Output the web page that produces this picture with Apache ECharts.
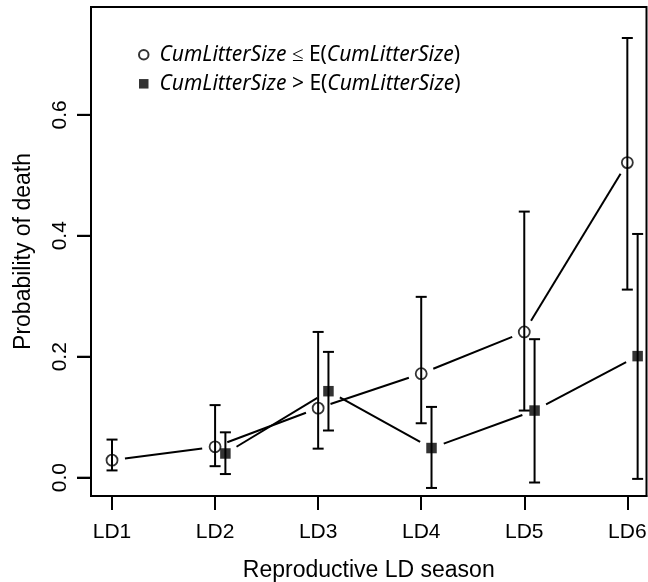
<!DOCTYPE html>
<html><head><meta charset="utf-8">
<script src="https://cdn.jsdelivr.net/npm/echarts@6/dist/echarts.min.js"></script>
<style>html,body{margin:0;padding:0;background:#fff}#c{width:648px;height:582px;background:#fff}</style>
</head><body><div id="c"></div>
<script>
// ---- data ----
const categories = ['LD1', 'LD2', 'LD3', 'LD4', 'LD5', 'LD6'];
const xTicks = [1, 2, 3, 4, 5, 6];
const yTicks = [0, 0.2, 0.4, 0.6];
const lowName = 'CumLitterSize ≤ E(CumLitterSize)';
const highName = 'CumLitterSize > E(CumLitterSize)';
const lowPos = [1, 2, 3, 4, 5, 6];
const lowMean = [0.029, 0.051, 0.115, 0.172, 0.241, 0.521];
const lowLower = [0.012, 0.019, 0.048, 0.090, 0.111, 0.311];
const lowUpper = [0.063, 0.120, 0.241, 0.299, 0.440, 0.727];
const highPos = [2, 3, 4, 5, 6];
const highOffset = 0.1;
const highMean = [0.040, 0.143, 0.049, 0.111, 0.201];
const highLower = [0.006, 0.078, -0.017, -0.008, -0.002];
const highUpper = [0.075, 0.208, 0.117, 0.229, 0.403];

// ---- build ----
const X_MIN = 0.796, X_MAX = 6.186;
const Y_MIN = -0.0303, Y_MAX = 0.7783;
const lowX = lowPos;
const highX = highPos.map(p => p + highOffset);
const pts = (xs, ys) => xs.map((x, i) => [x, ys[i]]);
const segs = (xs, ys) => xs.slice(0, -1).map((x, i) => [x, ys[i], xs[i + 1], ys[i + 1]]);
const bars = (xs, lo, hi) => xs.map((x, i) => [x, lo[i], hi[i]]);

const LW = 2;
const GAP = 13;
const TICK = 14;
function gapRender(params, api) {
  const a = api.coord([api.value(0), api.value(1)]);
  const b = api.coord([api.value(2), api.value(3)]);
  const dx = b[0] - a[0], dy = b[1] - a[1], L = Math.hypot(dx, dy);
  if (L <= 2 * GAP) return null;
  const ux = dx / L, uy = dy / L;
  return { type: 'line', shape: { x1: a[0] + ux * GAP, y1: a[1] + uy * GAP, x2: b[0] - ux * GAP, y2: b[1] - uy * GAP },
    style: { stroke: '#000', lineWidth: LW } };
}
function errRender(params, api) {
  const x = api.value(0);
  const t = api.coord([x, api.value(2)]);
  const b = api.coord([x, api.value(1)]);
  const w = 5.5;
  const st = { stroke: '#000', lineWidth: LW };
  return { type: 'group', children: [
    { type: 'line', shape: { x1: t[0], y1: t[1], x2: b[0], y2: b[1] }, style: st },
    { type: 'line', shape: { x1: t[0] - w, y1: t[1], x2: t[0] + w, y2: t[1] }, style: st },
    { type: 'line', shape: { x1: b[0] - w, y1: b[1], x2: b[0] + w, y2: b[1] }, style: st }
  ] };
}
// y-axis ticks on the left frame edge, placed by the y scale
function yTickRender(params, api) {
  const p = api.coord([api.value(0), api.value(1)]);
  return { type: 'line', shape: { x1: p[0] - TICK, y1: p[1], x2: p[0], y2: p[1] },
    style: { stroke: '#000', lineWidth: 2 } };
}

const AX = 'Liberation Sans, Arial, sans-serif';
const LF = 'Noto Sans';
const chart = echarts.init(document.getElementById('c'), null, { renderer: 'canvas' });
chart.setOption({
  animation: false,
  grid: { left: 91, right: 1.5, top: 7, bottom: 86, show: true, borderColor: '#000', borderWidth: 2,
    outerBoundsMode: 'none', containLabel: false },
  legend: {
    orient: 'vertical', left: 138, top: 44.3, padding: 0, itemWidth: 9.5, itemHeight: 9.5, itemGap: 8,
    selectedMode: false,
    data: [{ name: lowName, icon: 'circle' }, { name: highName, icon: 'rect' }],
    formatter: n => n === lowName
      ? '{p| }{i|CumLitterSize}{n| ≤ E(}{i|CumLitterSize}{n|)}'
      : '{p| }{i|CumLitterSize}{n| > E(}{i|CumLitterSize}{n|)}',
    textStyle: {
      color: '#000', fontFamily: LF, fontSize: 21,
      rich: {
        p: { width: 6, fontSize: 21, lineHeight: 20 },
        i: { fontStyle: 'italic', fontFamily: LF, fontSize: 21, lineHeight: 20, color: '#000' },
        n: { fontFamily: LF, fontSize: 21, lineHeight: 20, color: '#000' }
      }
    }
  },
  xAxis: {
    type: 'value', min: X_MIN, max: X_MAX,
    name: 'Reproductive LD season', nameLocation: 'middle', nameGap: 63,
    nameTextStyle: { fontFamily: AX, fontSize: 23, color: '#000' },
    axisLine: { show: true, onZero: false, lineStyle: { color: '#000', width: 2 } },
    splitLine: { show: false },
    axisTick: { show: true, customValues: xTicks, length: TICK, lineStyle: { color: '#000', width: 2 } },
    axisLabel: { customValues: xTicks, margin: 26, fontFamily: AX, fontSize: 21, color: '#000',
      formatter: v => categories[Math.round(v) - 1] }
  },
  yAxis: {
    type: 'value', min: Y_MIN, max: Y_MAX, zlevel: 1,
    name: 'Probability of death', nameLocation: 'middle', nameGap: 56, nameRotate: 90,
    nameTextStyle: { fontFamily: AX, fontSize: 23, color: '#000' },
    axisLine: { show: true, onZero: false, lineStyle: { color: '#000', width: 2 } },
    splitLine: { show: false },
    axisTick: { show: true, customValues: yTicks, length: TICK, lineStyle: { color: '#000', width: 2 } },
    axisLabel: { customValues: yTicks, margin: 20, rotate: 90, fontFamily: AX, fontSize: 21, color: '#000',
      formatter: v => v.toFixed(1) }
  },
  series: [
    { type: 'custom', name: 'yTicks', renderItem: yTickRender, data: yTicks.map(v => [X_MIN, v]),
      clip: false, silent: true, zlevel: 2, z: 100 },
    { type: 'custom', name: 'lowLine', renderItem: gapRender, data: segs(lowX, lowMean), silent: true, z: 2 },
    { type: 'custom', name: 'highLine', renderItem: gapRender, data: segs(highX, highMean), silent: true, z: 2 },
    { type: 'custom', name: 'lowErr', renderItem: errRender, data: bars(lowX, lowLower, lowUpper), silent: true, z: 3 },
    { type: 'custom', name: 'highErr', renderItem: errRender, data: bars(highX, highLower, highUpper), silent: true, z: 3 },
    { type: 'scatter', name: lowName, data: pts(lowX, lowMean), symbol: 'circle', symbolSize: 11,
      itemStyle: { color: 'rgba(0,0,0,0)', borderColor: '#000', borderWidth: 1.8 }, silent: true, z: 4 },
    { type: 'scatter', name: highName, data: pts(highX, highMean), symbol: 'rect', symbolSize: 10.5,
      itemStyle: { color: '#000' }, silent: true, z: 4 }
  ]
});
</script></body></html>
